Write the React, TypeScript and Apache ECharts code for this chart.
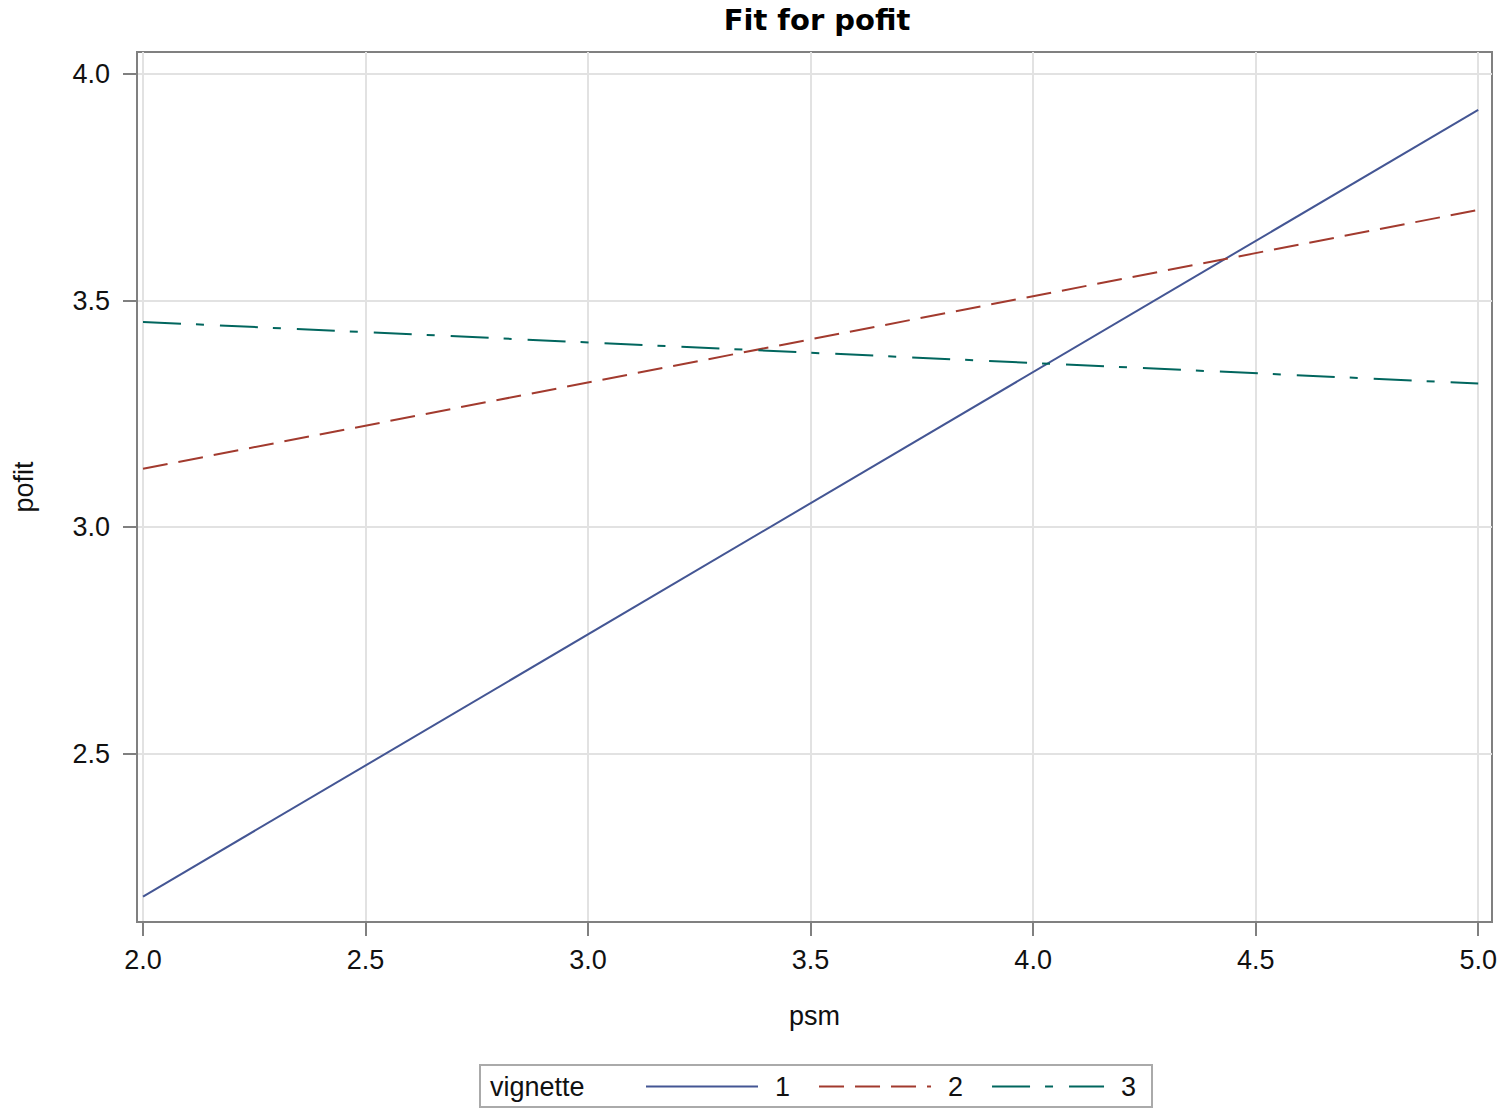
import React, { useEffect, useRef } from "react";
import * as echarts from "echarts";

const psm = [2.0, 5.0];
const vignette1 = [2.185, 3.921];
const vignette2 = [3.129, 3.7];
const vignette3 = [3.453, 3.317];
const seriesNames = ["1", "2", "3"];
const xTicks = [2.0, 2.5, 3.0, 3.5, 4.0, 4.5, 5.0];
const yTicks = [2.5, 3.0, 3.5, 4.0];

const FONT = "Liberation Sans, Arial, sans-serif";

export default function App() {
  const ref = useRef<HTMLDivElement>(null);
  useEffect(() => {
    document.body.style.margin = "0";
    const chart = echarts.init(ref.current!, null, { renderer: "svg" });
    const pts = (ys: number[]) => psm.map((x, i) => [x, ys[i]]);
    const axisCommon = {
      type: "value" as const,
      axisLine: { show: true, lineStyle: { color: "#808080", width: 2 } },
      splitLine: { show: true, lineStyle: { color: "#e2e2e2", width: 2 } },
    };
    chart.setOption({
      animation: false,
      backgroundColor: "#ffffff",
      title: {
        text: "Fit for pofit",
        left: 812,
        textAlign: "center",
        top: 0,
        textStyle: { fontFamily: "DejaVu Sans, sans-serif", fontWeight: "bold", fontSize: 29, color: "#000" },
      },
      grid: {
        left: 137,
        top: 52,
        right: 8,
        bottom: 189,
        show: true,
        borderColor: "#808080",
        borderWidth: 2,
        containLabel: false,
      },
      xAxis: {
        ...axisCommon,
        min: 1.9865,
        max: 5.031,
        name: "psm",
        nameLocation: "middle",
        nameGap: 80,
        nameTextStyle: { fontFamily: FONT, fontSize: 27, color: "#111" },
        axisTick: { show: true, customValues: xTicks, length: 14, lineStyle: { color: "#808080", width: 2 } },
        axisLabel: {
          customValues: xTicks,
          margin: 24,
          formatter: (v: number) => v.toFixed(1),
          fontFamily: FONT,
          fontSize: 27,
          color: "#111",
        },
      },
      yAxis: {
        ...axisCommon,
        min: 2.129,
        max: 4.0485,
        name: "pofit",
        nameLocation: "middle",
        nameGap: 100,
        nameRotate: 90,
        nameTextStyle: { fontFamily: FONT, fontSize: 27, color: "#111" },
        axisTick: { show: true, customValues: yTicks, length: 14, lineStyle: { color: "#808080", width: 2 } },
        axisLabel: {
          customValues: yTicks,
          margin: 27,
          formatter: (v: number) => v.toFixed(1),
          fontFamily: FONT,
          fontSize: 27,
          color: "#111",
        },
      },
      legend: {
        data: seriesNames,
        left: 645,
        top: 1073,
        padding: 0,
        itemWidth: 112,
        itemHeight: 14,
        itemGap: 28,
        itemStyle: { color: "transparent", opacity: 0, borderWidth: 0 },
        textStyle: { fontFamily: FONT, fontSize: 27, color: "#111", padding: [0, 0, 0, 12] },
      },
      graphic: [
        {
          type: "rect",
          shape: { x: 480, y: 1065, width: 672, height: 42 },
          style: { fill: "none", stroke: "#aaaaaa", lineWidth: 2 },
          silent: true,
        },
        {
          type: "text",
          x: 490,
          y: 1087,
          style: {
            text: "vignette",
            fontFamily: FONT,
            fontSize: 27,
            fill: "#111",
            verticalAlign: "middle",
          },
        },
      ],
      series: [
        {
          name: seriesNames[0],
          type: "line",
          data: pts(vignette1),
          symbol: "none",
          lineStyle: { color: "#445694", width: 2, type: "solid" },
          itemStyle: { color: "#445694" },
        },
        {
          name: seriesNames[1],
          type: "line",
          data: pts(vignette2),
          symbol: "none",
          lineStyle: { color: "#A23A2E", width: 2, type: [25, 11] },
          itemStyle: { color: "#A23A2E" },
        },
        {
          name: seriesNames[2],
          type: "line",
          data: pts(vignette3),
          symbol: "none",
          lineStyle: { color: "#01665E", width: 2, type: [38, 15, 8, 16] },
          itemStyle: { color: "#01665E" },
        },
      ],
    });
    return () => chart.dispose();
  }, []);
  return <div ref={ref} style={{ width: 1500, height: 1111 }} />;
}
